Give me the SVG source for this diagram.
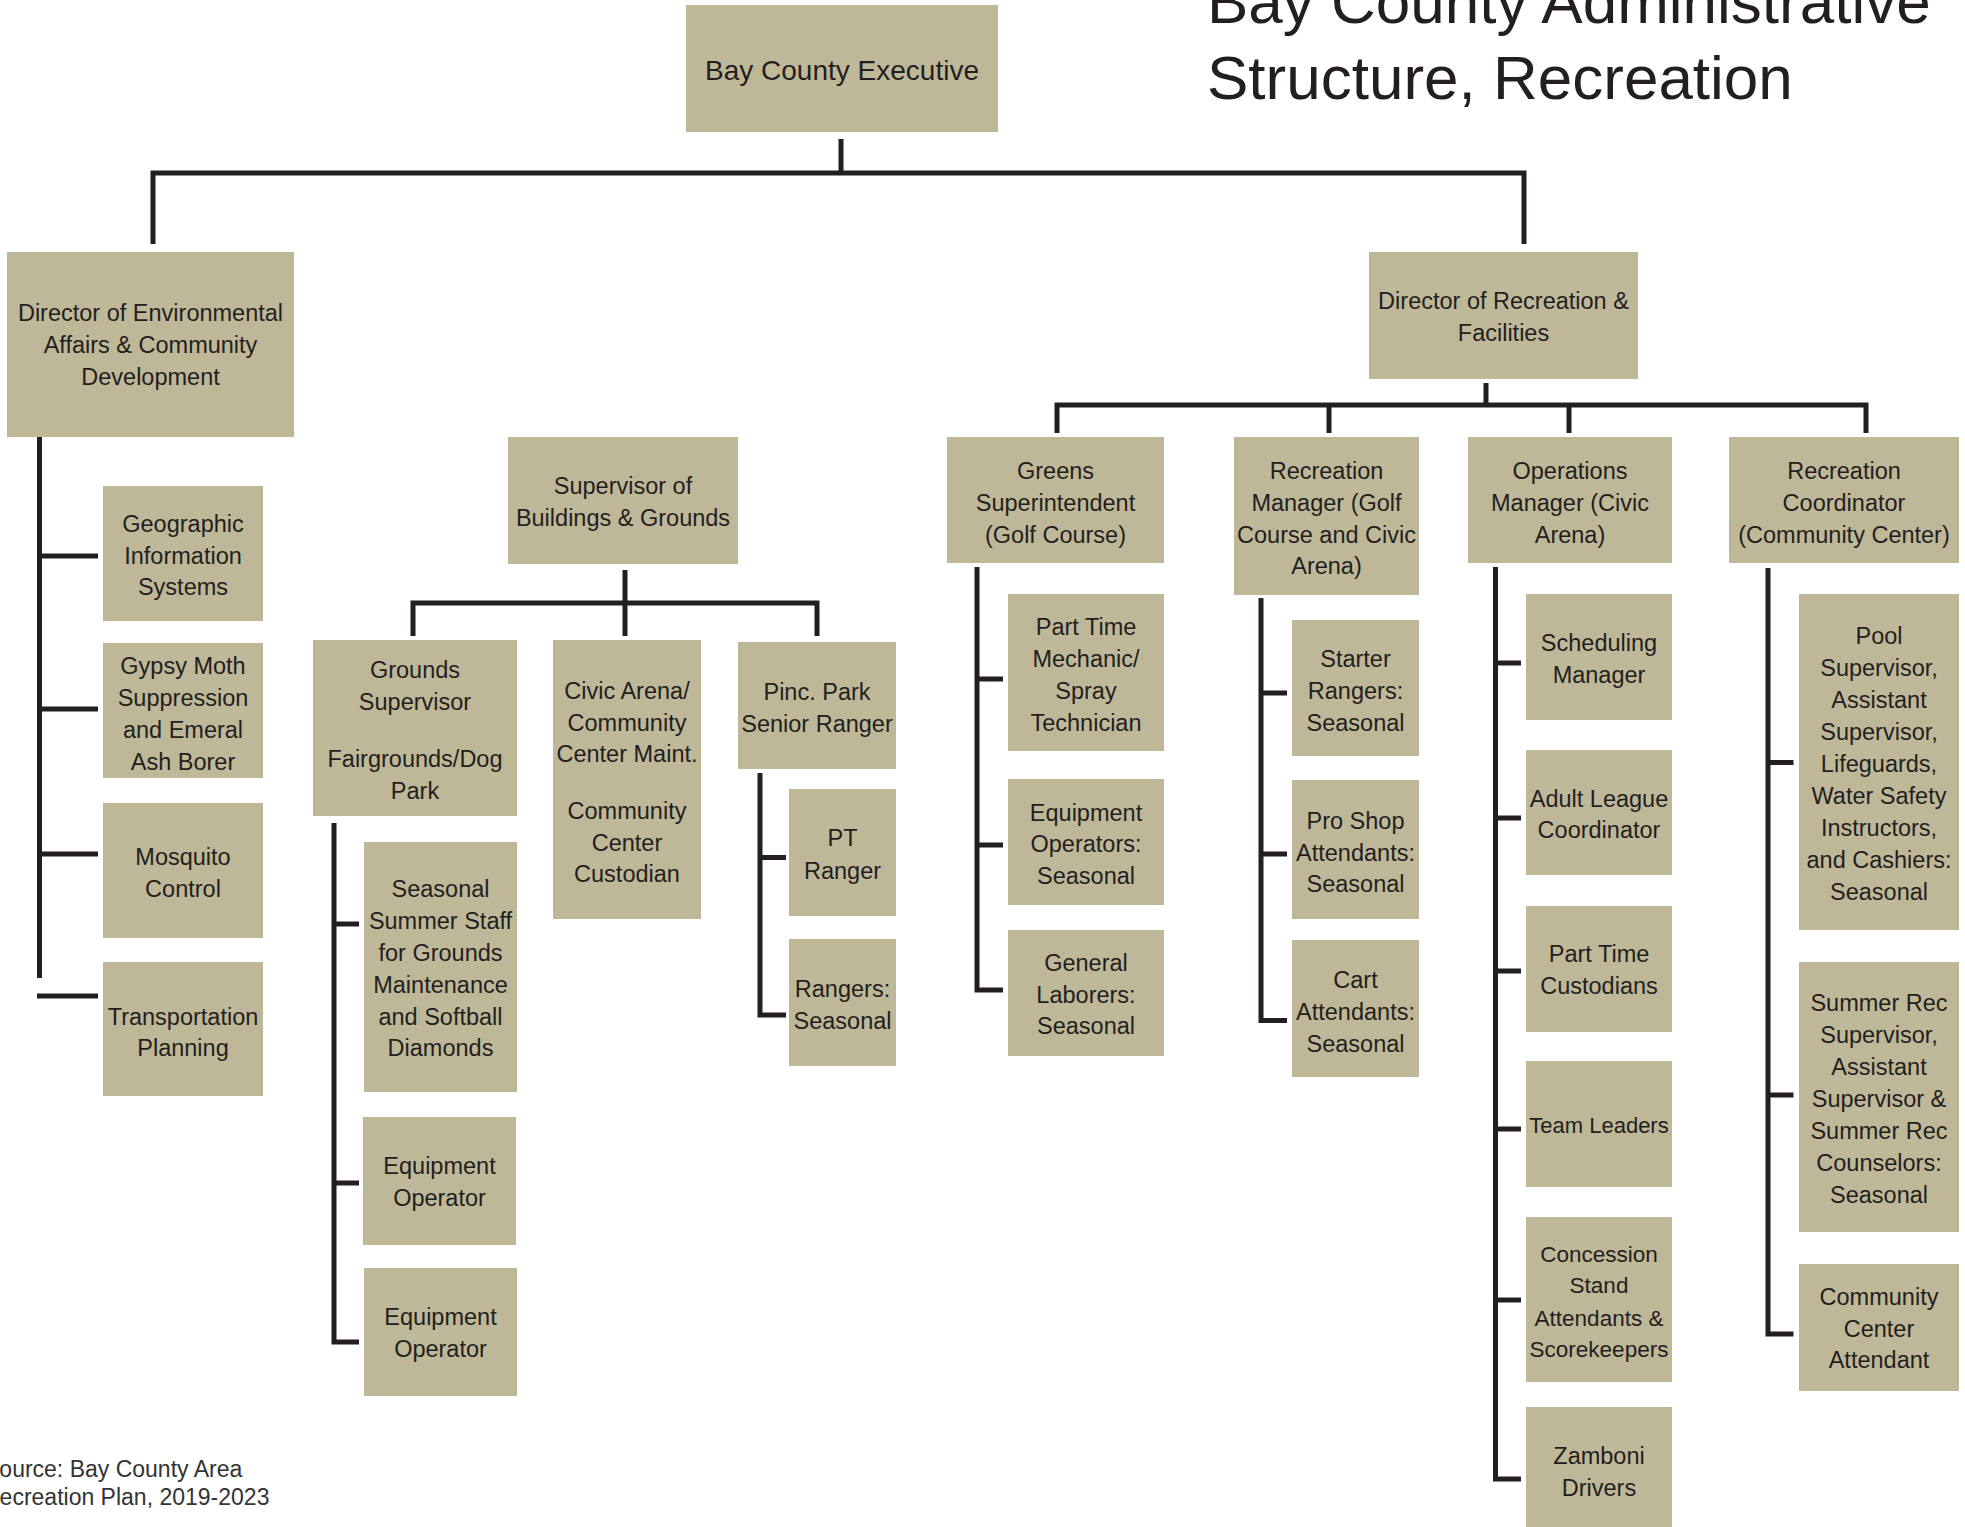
<svg xmlns="http://www.w3.org/2000/svg" width="1965" height="1527" viewBox="0 0 1965 1527">
<style>
.box{fill:#BFB898}
.t{font-family:"Liberation Sans",Arial,sans-serif;font-size:23.5px;fill:#231F20;text-anchor:middle}
.c{fill:none;stroke:#231F20;stroke-width:5;stroke-linejoin:miter}
.title{font-family:"Liberation Sans",Arial,sans-serif;font-size:62px;fill:#231F20}
.src{font-family:"Liberation Sans",Arial,sans-serif;font-size:23px;fill:#333333}
</style>
<rect width="1965" height="1527" fill="#FFFFFF"/>
<text class="title" x="1207" y="23">Bay County Administrative</text>
<text class="title" x="1207" y="99">Structure, Recreation</text>
<text class="src" x="-16" y="1477">Source: Bay County Area</text>
<text class="src" x="-17" y="1505">Recreation Plan, 2019-2023</text>

<g id="connectors">
<path class="c" d="M841,139 V173"/>
<path class="c" d="M153,244 V173 H1524 V244"/>
<path class="c" d="M39.5,437 V978"/>
<path class="c" d="M39.5,556 H98 M39.5,709 H98 M39.5,854 H98 M37,996 H98"/>
<path class="c" d="M625,570 V636"/>
<path class="c" d="M413,636 V603 H817 V636"/>
<path class="c" d="M334,823 V1342 H359 M334,924 H359 M334,1183 H359"/>
<path class="c" d="M760,773 V1015 H786 M760,857.5 H786"/>
<path class="c" d="M1486,383 V405"/>
<path class="c" d="M1057,433 V405 H1866 V433 M1329,405 V433 M1569,405 V433"/>
<path class="c" d="M977,567 V990 H1003 M977,679 H1003 M977,845 H1003"/>
<path class="c" d="M1261,598 V1020.5 H1287 M1261,693 H1287 M1261,854 H1287"/>
<path class="c" d="M1495.5,567 V1479 H1521 M1495.5,663 H1521 M1495.5,818 H1521 M1495.5,971 H1521 M1495.5,1129 H1521 M1495.5,1300 H1521"/>
<path class="c" d="M1768,568 V1334 H1793.5 M1768,762.5 H1793.5 M1768,1095 H1793.5"/>
</g>

<g id="executive"><rect class="box" x="686" y="5" width="312" height="127"/><text class="t" x="842" y="80" style="font-size:28px">Bay County Executive</text></g>

<g id="dir-env"><rect class="box" x="7" y="252" width="287" height="185"/>
<text class="t" x="150.5" y="321">Director of Environmental</text><text class="t" x="150.5" y="353">Affairs &amp; Community</text><text class="t" x="150.5" y="385">Development</text></g>
<g id="gis"><rect class="box" x="103" y="486" width="160" height="135"/>
<text class="t" x="183" y="532">Geographic</text><text class="t" x="183" y="564">Information</text><text class="t" x="183" y="595">Systems</text></g>
<g id="gypsy"><rect class="box" x="103" y="643" width="160" height="135"/>
<text class="t" x="183" y="674">Gypsy Moth</text><text class="t" x="183" y="706">Suppression</text><text class="t" x="183" y="738">and Emeral</text><text class="t" x="183" y="770">Ash Borer</text></g>
<g id="mosquito"><rect class="box" x="103" y="803" width="160" height="135"/>
<text class="t" x="183" y="865">Mosquito</text><text class="t" x="183" y="897">Control</text></g>
<g id="transport"><rect class="box" x="103" y="962" width="160" height="134"/>
<text class="t" x="183" y="1025">Transportation</text><text class="t" x="183" y="1056">Planning</text></g>

<g id="sup-bg"><rect class="box" x="508" y="437" width="230" height="127"/>
<text class="t" x="623" y="494">Supervisor of</text><text class="t" x="623" y="526">Buildings &amp; Grounds</text></g>
<g id="grounds-sup"><rect class="box" x="313" y="640" width="204" height="176"/>
<text class="t" x="415" y="678">Grounds</text><text class="t" x="415" y="710">Supervisor</text><text class="t" x="415" y="767">Fairgrounds/Dog</text><text class="t" x="415" y="799">Park</text></g>
<g id="civic-arena"><rect class="box" x="553" y="640" width="148" height="279"/>
<text class="t" x="627" y="699">Civic Arena/</text><text class="t" x="627" y="731">Community</text><text class="t" x="627" y="762">Center Maint.</text><text class="t" x="627" y="819">Community</text><text class="t" x="627" y="851">Center</text><text class="t" x="627" y="882">Custodian</text></g>
<g id="pinc-park"><rect class="box" x="738" y="642" width="158" height="127"/>
<text class="t" x="817" y="700">Pinc. Park</text><text class="t" x="817" y="732">Senior Ranger</text></g>
<g id="pt-ranger"><rect class="box" x="789" y="789" width="107" height="127"/>
<text class="t" x="842.5" y="846">PT</text><text class="t" x="842.5" y="879">Ranger</text></g>
<g id="rangers-seasonal"><rect class="box" x="789" y="939" width="107" height="127"/>
<text class="t" x="842.5" y="997">Rangers:</text><text class="t" x="842.5" y="1029">Seasonal</text></g>
<g id="seasonal-summer"><rect class="box" x="364" y="842" width="153" height="250"/>
<text class="t" x="440.5" y="897">Seasonal</text><text class="t" x="440.5" y="929">Summer Staff</text><text class="t" x="440.5" y="961">for Grounds</text><text class="t" x="440.5" y="993">Maintenance</text><text class="t" x="440.5" y="1025">and Softball</text><text class="t" x="440.5" y="1056">Diamonds</text></g>
<g id="equip-op-1"><rect class="box" x="363" y="1117" width="153" height="128"/>
<text class="t" x="439.5" y="1174">Equipment</text><text class="t" x="439.5" y="1206">Operator</text></g>
<g id="equip-op-2"><rect class="box" x="364" y="1268" width="153" height="128"/>
<text class="t" x="440.5" y="1325">Equipment</text><text class="t" x="440.5" y="1357">Operator</text></g>

<g id="dir-rec"><rect class="box" x="1369" y="252" width="269" height="127"/>
<text class="t" x="1503.5" y="309">Director of Recreation &amp;</text><text class="t" x="1503.5" y="341">Facilities</text></g>
<g id="greens"><rect class="box" x="947" y="437" width="217" height="126"/>
<text class="t" x="1055.5" y="479">Greens</text><text class="t" x="1055.5" y="511">Superintendent</text><text class="t" x="1055.5" y="543">(Golf Course)</text></g>
<g id="pt-mechanic"><rect class="box" x="1008" y="594" width="156" height="157"/>
<text class="t" x="1086" y="635">Part Time</text><text class="t" x="1086" y="667">Mechanic/</text><text class="t" x="1086" y="699">Spray</text><text class="t" x="1086" y="731">Technician</text></g>
<g id="equip-ops-seasonal"><rect class="box" x="1008" y="779" width="156" height="126"/>
<text class="t" x="1086" y="821">Equipment</text><text class="t" x="1086" y="852">Operators:</text><text class="t" x="1086" y="884">Seasonal</text></g>
<g id="general-laborers"><rect class="box" x="1008" y="930" width="156" height="126"/>
<text class="t" x="1086" y="971">General</text><text class="t" x="1086" y="1003">Laborers:</text><text class="t" x="1086" y="1034">Seasonal</text></g>
<g id="rec-manager"><rect class="box" x="1234" y="437" width="185" height="158"/>
<text class="t" x="1326.5" y="479">Recreation</text><text class="t" x="1326.5" y="511">Manager (Golf</text><text class="t" x="1326.5" y="543">Course and Civic</text><text class="t" x="1326.5" y="574">Arena)</text></g>
<g id="starter"><rect class="box" x="1292" y="620" width="127" height="136"/>
<text class="t" x="1355.5" y="667">Starter</text><text class="t" x="1355.5" y="699">Rangers:</text><text class="t" x="1355.5" y="731">Seasonal</text></g>
<g id="pro-shop"><rect class="box" x="1292" y="780" width="127" height="139"/>
<text class="t" x="1355.5" y="829">Pro Shop</text><text class="t" x="1355.5" y="861">Attendants:</text><text class="t" x="1355.5" y="892">Seasonal</text></g>
<g id="cart"><rect class="box" x="1292" y="940" width="127" height="137"/>
<text class="t" x="1355.5" y="988">Cart</text><text class="t" x="1355.5" y="1020">Attendants:</text><text class="t" x="1355.5" y="1052">Seasonal</text></g>
<g id="ops-manager"><rect class="box" x="1468" y="437" width="204" height="126"/>
<text class="t" x="1570" y="479">Operations</text><text class="t" x="1570" y="511">Manager (Civic</text><text class="t" x="1570" y="543">Arena)</text></g>
<g id="scheduling"><rect class="box" x="1526" y="594" width="146" height="126"/>
<text class="t" x="1599" y="651">Scheduling</text><text class="t" x="1599" y="683">Manager</text></g>
<g id="adult-league"><rect class="box" x="1526" y="750" width="146" height="125"/>
<text class="t" x="1599" y="807">Adult League</text><text class="t" x="1599" y="838">Coordinator</text></g>
<g id="pt-custodians"><rect class="box" x="1526" y="906" width="146" height="126"/>
<text class="t" x="1599" y="962">Part Time</text><text class="t" x="1599" y="994">Custodians</text></g>
<g id="team-leaders"><rect class="box" x="1526" y="1061" width="146" height="126"/>
<text class="t" x="1599" y="1133" style="font-size:22px">Team Leaders</text></g>
<g id="concession"><rect class="box" x="1526" y="1217" width="146" height="165"/>
<text class="t" x="1599" y="1262" style="font-size:22.5px">Concession</text><text class="t" x="1599" y="1293" style="font-size:22.5px">Stand</text><text class="t" x="1599" y="1326" style="font-size:22.5px">Attendants &amp;</text><text class="t" x="1599" y="1357" style="font-size:22.5px">Scorekeepers</text></g>
<g id="zamboni"><rect class="box" x="1526" y="1407" width="146" height="120"/>
<text class="t" x="1599" y="1464">Zamboni</text><text class="t" x="1599" y="1496">Drivers</text></g>
<g id="rec-coord"><rect class="box" x="1729" y="437" width="230" height="126"/>
<text class="t" x="1844" y="479">Recreation</text><text class="t" x="1844" y="511">Coordinator</text><text class="t" x="1844" y="543">(Community Center)</text></g>
<g id="pool"><rect class="box" x="1799" y="594" width="160" height="336"/>
<text class="t" x="1879" y="644">Pool</text><text class="t" x="1879" y="676">Supervisor,</text><text class="t" x="1879" y="708">Assistant</text><text class="t" x="1879" y="740">Supervisor,</text><text class="t" x="1879" y="772">Lifeguards,</text><text class="t" x="1879" y="804">Water Safety</text><text class="t" x="1879" y="836">Instructors,</text><text class="t" x="1879" y="868">and Cashiers:</text><text class="t" x="1879" y="900">Seasonal</text></g>
<g id="summer-rec"><rect class="box" x="1799" y="962" width="160" height="270"/>
<text class="t" x="1879" y="1011">Summer Rec</text><text class="t" x="1879" y="1043">Supervisor,</text><text class="t" x="1879" y="1075">Assistant</text><text class="t" x="1879" y="1107">Supervisor &amp;</text><text class="t" x="1879" y="1139">Summer Rec</text><text class="t" x="1879" y="1171">Counselors:</text><text class="t" x="1879" y="1203">Seasonal</text></g>
<g id="cc-attendant"><rect class="box" x="1799" y="1264" width="160" height="127"/>
<text class="t" x="1879" y="1305">Community</text><text class="t" x="1879" y="1337">Center</text><text class="t" x="1879" y="1368">Attendant</text></g>
</svg>
